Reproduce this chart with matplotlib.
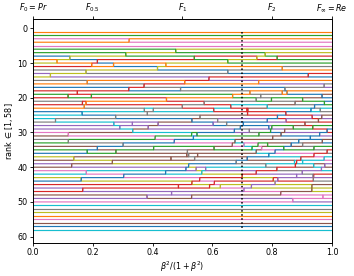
import numpy as np
import matplotlib.pyplot as plt

plt.rcParams['font.size'] = 5.8

# precision / recall per model (plot order decides the colour)
precision = [0.890, 0.960, 0.950, 0.860, 0.812, 0.660, 0.940, 0.820, 0.870, 0.711,
             0.778, 0.930, 0.910, 0.770, 0.686, 0.635, 0.920, 0.795, 0.803, 0.702,
             0.719, 0.880, 0.900, 0.753, 0.677, 0.602, 0.669, 0.744, 0.610, 0.568,
             0.618, 0.786, 0.761, 0.736, 0.593, 0.585, 0.576, 0.694, 0.560, 0.470,
             0.551, 0.728, 0.644, 0.543, 0.534, 0.518, 0.500, 0.652, 0.410, 0.260,
             0.290, 0.380, 0.627, 0.526, 0.509, 0.320, 0.350, 0.440]
recall = [0.750, 0.950, 0.930, 0.840, 0.723, 0.715, 0.900, 0.780, 0.870, 0.700,
          0.711, 0.920, 0.830, 0.674, 0.671, 0.637, 0.890, 0.697, 0.860, 0.633,
          0.663, 0.770, 0.810, 0.760, 0.689, 0.667, 0.645, 0.652, 0.611, 0.648,
          0.708, 0.730, 0.704, 0.685, 0.626, 0.693, 0.604, 0.726, 0.615, 0.540,
          0.678, 0.719, 0.682, 0.630, 0.600, 0.619, 0.607, 0.622, 0.480, 0.330,
          0.360, 0.450, 0.659, 0.656, 0.641, 0.390, 0.420, 0.510]

top_ticks = [0.0, 0.2, 0.5, 0.8, 1.0]
top_labels = [r'$F_0=Pr$', r'$F_{0.5}$', r'$F_1$', r'$F_2$', r'$F_\infty=Re$']

P = np.array(precision)[:, None]
R = np.array(recall)[:, None]
w = np.linspace(0, 1, 1001)[None, :]
F = 1.0 / ((1 - w) / P + w / R)
rank = np.argsort(np.argsort(-F, axis=0), axis=0) + 1

fig = plt.figure(figsize=(3.54, 2.76), dpi=100)
ax = fig.add_axes([0.093, 0.12, 0.845, 0.81])
for i in range(len(precision)):
    ax.plot(w[0], rank[i], lw=0.85)
ax.vlines(0.7, 1, len(precision), colors='k', linestyles=':', lw=1.1)
ax.set_xlim(0, 1)
ax.set_ylim(61.8, -2.6)
ax.set_xlabel(r'$\beta^2/(1+\beta^2)$', labelpad=1.5)
ax.set_ylabel(r'rank $\in [1, 58]$', labelpad=1.5)
ax.tick_params(length=2.5, pad=1.5, width=0.6)

ax2 = ax.twiny()
ax2.set_xlim(0, 1)
ax2.set_xticks(top_ticks)
ax2.set_xticklabels(top_labels)
ax2.tick_params(length=2.5, pad=1.5, width=0.6)
for a in (ax, ax2):
    for s in a.spines.values():
        s.set_linewidth(0.6)

plt.savefig('out.png', dpi=100)
